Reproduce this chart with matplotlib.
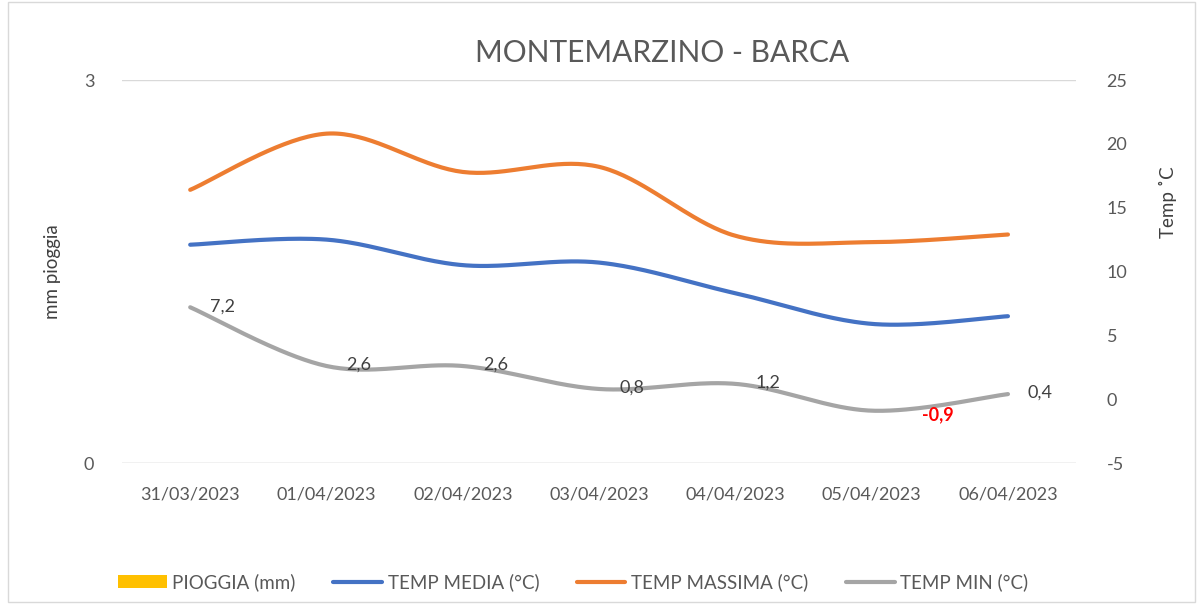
import numpy as np
import matplotlib.pyplot as plt
from matplotlib.patches import Rectangle

plt.rcParams['font.family'] = ['Lato', 'DejaVu Sans']
plt.rcParams['axes.unicode_minus'] = False

date = ["31/03/2023", "01/04/2023", "02/04/2023", "03/04/2023",
        "04/04/2023", "05/04/2023", "06/04/2023"]
pioggia = [0, 0, 0, 0, 0, 0, 0]
t_media = [12.1, 12.5, 10.5, 10.7, 8.3, 5.9, 6.5]
t_max = [16.4, 20.8, 17.8, 18.2, 12.8, 12.3, 12.9]
t_min = [7.2, 2.6, 2.6, 0.8, 1.2, -0.9, 0.4]

grey_txt = "#595959"


def smooth(x, y, n=40):
    # curva liscia tipo excel (bezier cardinale)
    x = np.asarray(x, float)
    y = np.asarray(y, float)
    px = np.concatenate([[x[0]], x, [x[-1]]])
    py = np.concatenate([[y[0]], y, [y[-1]]])
    xs, ys = [], []
    t = np.linspace(0, 1, n)
    for i in range(1, len(px) - 2):
        p0 = np.array([px[i], py[i]])
        p3 = np.array([px[i + 1], py[i + 1]])
        p1 = p0 + (np.array([px[i + 1], py[i + 1]]) - np.array([px[i - 1], py[i - 1]])) / 6
        p2 = p3 - (np.array([px[i + 2], py[i + 2]]) - np.array([px[i], py[i]])) / 6
        b = ((1 - t) ** 3)[:, None] * p0 + (3 * (1 - t) ** 2 * t)[:, None] * p1 \
            + (3 * (1 - t) * t ** 2)[:, None] * p2 + (t ** 3)[:, None] * p3
        xs.append(b[:, 0])
        ys.append(b[:, 1])
    return np.concatenate(xs), np.concatenate(ys)


fig = plt.figure(figsize=(11.99, 6.04), dpi=100)
ax = fig.add_axes([0.1018, 0.2334, 0.7957, 0.6341])
ax2 = ax.twinx()

x = np.arange(len(date))
bars = ax.bar(x, pioggia, width=0.5, color="#FFC000", label="PIOGGIA (mm)")
ax.set_ylim(0, 3)
ax.set_yticks([0, 3])
ax.set_xlim(-0.5, len(date) - 0.5)
ax.set_xticks(x)
ax.set_xticklabels(date)
ax.grid(axis="y", color="#d9d9d9", lw=1)
ax.set_axisbelow(True)
ax.set_ylabel("mm pioggia", fontsize=13.5, color="#404040")
ax.yaxis.set_label_coords(-0.064, 0.5)

l1, = ax2.plot(*smooth(x, t_media), color="#4472C4", lw=3, solid_capstyle="round", label="TEMP MEDIA (°C)")
l2, = ax2.plot(*smooth(x, t_max), color="#ED7D31", lw=3, solid_capstyle="round", label="TEMP MASSIMA (°C)")
l3, = ax2.plot(*smooth(x, t_min), color="#A5A5A5", lw=3, solid_capstyle="round", label="TEMP MIN (°C)")
ax2.set_ylim(-5, 25)
ax2.set_yticks(np.arange(-5, 26, 5))
ax2.set_ylabel("Temp ˚C", fontsize=13.5, color="#404040")
ax2.yaxis.set_label_coords(1.087, 0.68)

for i, v in enumerate(t_min):
    s = f"{v:.1f}".replace(".", ",")
    if v < 0:
        ax2.annotate(s, (x[i], v), xytext=(50, -4), textcoords="offset pixels",
                     ha="left", va="center", color="red", fontweight="bold", fontsize=13)
    else:
        ax2.annotate(s, (x[i], v), xytext=(20, 1), textcoords="offset pixels",
                     ha="left", va="center", color="#404040", fontsize=13)

for a in (ax, ax2):
    for sp in a.spines.values():
        sp.set_visible(False)
    a.tick_params(length=0, labelsize=13, colors=grey_txt)
ax.tick_params(axis="y", pad=20)
ax.tick_params(axis="x", pad=17)
ax2.tick_params(axis="y", pad=22)
for lab in ax2.get_yticklabels():
    lab.set_ha("left")
ax.axhline(0, color="#d9d9d9", lw=1)

fig.text(0.552, 0.913, "MONTEMARZINO - BARCA", ha="center", va="center",
         fontsize=21.5, color="#595959")

fig.legend([bars, l1, l2, l3], ["PIOGGIA (mm)", "TEMP MEDIA (°C)", "TEMP MASSIMA (°C)", "TEMP MIN (°C)"],
           loc="center", bbox_to_anchor=(0.478, 0.036), ncol=4, frameon=False,
           fontsize=13.5, labelcolor=grey_txt, handlelength=2.6, columnspacing=2.0,
           handletextpad=0.3)

fig.patches.append(Rectangle((0.007, 0.004), 0.99, 0.992, transform=fig.transFigure,
                             fill=False, edgecolor="#d9d9d9", lw=1))

fig.savefig("out.png", dpi=100)
